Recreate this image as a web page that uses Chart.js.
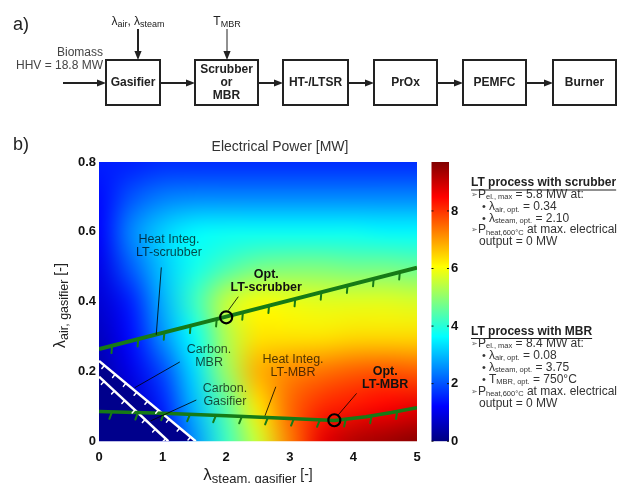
<!DOCTYPE html>
<html>
<head>
<meta charset="utf-8">
<script src="https://cdn.jsdelivr.net/npm/chart.js@4.4.0/dist/chart.umd.min.js"></script>
<style>
  html, body { margin: 0; padding: 0; background: #fff; }
</style>
</head>
<body>
<canvas id="powerChart" width="631" height="483"></canvas>
<script>
// grid of the electrical power map
var steamValues = [0, 0.5, 1, 1.5, 2, 2.5, 3, 3.5, 4, 4.5, 5];
var airValues = [0, 0.1, 0.2, 0.3, 0.4, 0.5, 0.6, 0.7, 0.8];
// powerMW[j][i] -> airValues[j], steamValues[i]
var powerMW = [
  [0.2, 0.4, 1.0, 2.6, 4.2, 5.6, 7.3, 8.7, 9.2, 9.4, 9.6],
  [0.3, 0.6, 1.5, 3.0, 4.5, 6.3, 7.5, 8.1, 8.3, 8.5, 8.7],
  [0.4, 1.0, 1.9, 3.3, 5.1, 6.8, 7.2, 7.4, 7.6, 7.7, 7.6],
  [0.6, 1.3, 2.6, 3.7, 5.3, 6.3, 6.3, 6.3, 6.4, 6.4, 6.4],
  [0.8, 1.5, 2.9, 4.2, 5.5, 6.0, 5.9, 5.8, 5.8, 5.8, 5.7],
  [1.0, 2.1, 3.1, 3.8, 4.3, 4.7, 4.8, 4.8, 4.7, 4.7, 4.6],
  [1.2, 2.5, 3.2, 3.6, 3.7, 3.7, 3.7, 3.7, 3.7, 3.6, 3.6],
  [1.3, 2.0, 2.4, 2.5, 2.5, 2.5, 2.5, 2.5, 2.5, 2.5, 2.5],
  [1.5, 1.5, 1.6, 1.6, 1.6, 1.6, 1.6, 1.6, 1.6, 1.6, 1.6]
];
var powerMax = 9.7;
var colorbarTicks = [0, 2, 4, 6, 8];
var steamTicks = [0, 1, 2, 3, 4, 5];
var airTicks = [0, 0.2, 0.4, 0.6, 0.8];

// constraint lines
var scrubberSteam = [0, 2, 5];
var scrubberAir = [0.264, 0.357, 0.497];
var mbrSteam = [0, 1, 2, 3, 3.7, 4.2, 4.6, 5];
var mbrAir = [0.085, 0.080, 0.073, 0.065, 0.059, 0.070, 0.082, 0.096];
var carbonMbrSteam = [0, 1.52];
var carbonMbrAir = [0.23, 0];
var carbonGasSteam = [0, 1.09];
var carbonGasAir = [0.185, 0];
// optima
var optSteam = [2.0, 3.7];
var optAir = [0.355, 0.06];

var FONT = "'Liberation Sans', Arial, sans-serif";
var GREEN = '#167a16';

function pts(xs, ys) {
  return xs.map(function (x, i) { return { x: x, y: ys[i] }; });
}

function jet(t) {
  t = Math.max(0, Math.min(1, t));
  function c(v) { return Math.round(255 * Math.max(0, Math.min(1, v))); }
  return [c(1.5 - Math.abs(4 * t - 3)), c(1.5 - Math.abs(4 * t - 2)), c(1.5 - Math.abs(4 * t - 1))];
}

// text made of parts {t, size, dy}
function drawParts(ctx, parts, x, y, align, color, bold) {
  var w = 0;
  parts.forEach(function (p) {
    ctx.font = (bold ? 'bold ' : '') + p.size + 'px ' + FONT;
    p.w = ctx.measureText(p.t).width;
    w += p.w;
  });
  var cx = align === 'center' ? x - w / 2 : (align === 'right' ? x - w : x);
  var start = cx;
  ctx.fillStyle = color;
  ctx.textAlign = 'left';
  ctx.textBaseline = 'middle';
  parts.forEach(function (p) {
    ctx.font = (bold ? 'bold ' : '') + p.size + 'px ' + FONT;
    ctx.fillText(p.t, cx, y + (p.dy || 0));
    cx += p.w;
  });
  return { x: start, w: w };
}

// "P_{el., max} = 5.8" -> parts
function parse(str, size, sub) {
  var parts = [], re = /_\{([^}]*)\}/g, last = 0, m;
  while ((m = re.exec(str))) {
    if (m.index > last) parts.push({ t: str.slice(last, m.index), size: size });
    parts.push({ t: m[1], size: sub, dy: size * 0.22 });
    last = re.lastIndex;
  }
  if (last < str.length) parts.push({ t: str.slice(last), size: size });
  return parts;
}

function arrow(ctx, x1, y1, x2, y2, lw, head) {
  var a = Math.atan2(y2 - y1, x2 - x1);
  var bx = x2 - Math.cos(a) * head, by = y2 - Math.sin(a) * head;
  var hw = head * 0.4;
  ctx.lineWidth = lw;
  ctx.beginPath(); ctx.moveTo(x1, y1); ctx.lineTo(bx, by); ctx.stroke();
  ctx.beginPath();
  ctx.moveTo(x2, y2);
  ctx.lineTo(bx + Math.sin(a) * hw, by - Math.cos(a) * hw);
  ctx.lineTo(bx - Math.sin(a) * hw, by + Math.cos(a) * hw);
  ctx.closePath(); ctx.fill();
}

// heat map painted through the x/y scales
var heatmapPlugin = {
  id: 'heatmap',
  beforeDatasetsDraw: function (chart) {
    var ctx = chart.ctx, xs = chart.scales.x, ys = chart.scales.y, area = chart.chartArea;
    var nx = steamValues.length, ny = airValues.length;
    var off = document.createElement('canvas');
    off.width = nx; off.height = ny;
    var octx = off.getContext('2d');
    var img = octx.createImageData(nx, ny);
    for (var j = 0; j < ny; j++) {
      for (var i = 0; i < nx; i++) {
        var rgb = jet(powerMW[j][i] / powerMax);
        var k = ((ny - 1 - j) * nx + i) * 4;
        img.data[k] = rgb[0]; img.data[k + 1] = rgb[1]; img.data[k + 2] = rgb[2]; img.data[k + 3] = 255;
      }
    }
    octx.putImageData(img, 0, 0);
    var hx = (steamValues[1] - steamValues[0]) / 2, hy = (airValues[1] - airValues[0]) / 2;
    var x0 = xs.getPixelForValue(steamValues[0] - hx), x1 = xs.getPixelForValue(steamValues[nx - 1] + hx);
    var y0 = ys.getPixelForValue(airValues[ny - 1] + hy), y1 = ys.getPixelForValue(airValues[0] - hy);
    ctx.save();
    ctx.beginPath(); ctx.rect(area.left, area.top, area.right - area.left, area.bottom - area.top); ctx.clip();
    ctx.imageSmoothingEnabled = true;
    ctx.imageSmoothingQuality = 'high';
    ctx.drawImage(off, x0, y0, x1 - x0, y1 - y0);
    ctx.restore();
  }
};

// hatch marks along constraint lines, annotations
var notes = [
  { lines: ['Heat Integ.', 'LT-scrubber'], at: [1.10, 0.558], from: [0.98, 0.498], to: [0.90, 0.305] },
  { lines: ['Opt.', 'LT-scrubber'], at: [2.63, 0.459], from: [2.19, 0.414], to: [2.03, 0.374], bold: true },
  { lines: ['Carbon.', 'MBR'], at: [1.73, 0.244], from: [1.27, 0.227], to: [0.56, 0.153] },
  { lines: ['Carbon.', 'Gasifier'], at: [1.98, 0.133], from: [1.53, 0.118], to: [0.81, 0.058] },
  { lines: ['Heat Integ.', 'LT-MBR'], at: [3.05, 0.214], from: [2.78, 0.156], to: [2.61, 0.073] },
  { lines: ['Opt.', 'LT-MBR'], at: [4.50, 0.180], from: [4.05, 0.137], to: [3.75, 0.073], bold: true }
];

var overlayPlugin = {
  id: 'overlay',
  afterDatasetsDraw: function (chart) {
    var ctx = chart.ctx, xs = chart.scales.x, ys = chart.scales.y, area = chart.chartArea;
    ctx.save();
    ctx.beginPath(); ctx.rect(area.left, area.top, area.right - area.left, area.bottom - area.top); ctx.clip();
    chart.data.datasets.forEach(function (ds, di) {
      if (!ds.hatch) return;
      var h = ds.hatch;
      var p = chart.getDatasetMeta(di).data.map(function (e) { return { x: e.x, y: e.y }; });
      ctx.strokeStyle = h.color; ctx.lineWidth = h.width; ctx.lineCap = 'round';
      var carry = h.spacing / 2;
      for (var s = 0; s < p.length - 1; s++) {
        var dx = p[s + 1].x - p[s].x, dy = p[s + 1].y - p[s].y, L = Math.hypot(dx, dy);
        var ux = dx / L, uy = dy / L, nx = -uy, ny = ux;
        if (ny < 0) { nx = -nx; ny = -ny; }
        var d = carry;
        while (d <= L) {
          var px = p[s].x + ux * d, py = p[s].y + uy * d;
          ctx.beginPath();
          ctx.moveTo(px, py);
          ctx.lineTo(px + nx * h.len - ux * h.len * h.lean, py + ny * h.len - uy * h.len * h.lean);
          ctx.stroke();
          d += h.spacing;
        }
        carry = d - L;
      }
    });
    ctx.restore();

    ctx.save();
    notes.forEach(function (n) {
      ctx.strokeStyle = 'rgba(0,0,0,0.8)'; ctx.lineWidth = 1;
      ctx.beginPath();
      ctx.moveTo(xs.getPixelForValue(n.from[0]), ys.getPixelForValue(n.from[1]));
      ctx.lineTo(xs.getPixelForValue(n.to[0]), ys.getPixelForValue(n.to[1]));
      ctx.stroke();
      var cx = xs.getPixelForValue(n.at[0]), cy = ys.getPixelForValue(n.at[1]);
      var lh = 13, top = cy - lh * (n.lines.length - 1) / 2;
      n.lines.forEach(function (t, i) {
        drawParts(ctx, [{ t: t, size: 12.5 }], cx, top + i * lh, 'center',
          n.bold ? '#111' : 'rgba(0,0,0,0.7)', n.bold);
      });
    });
    ctx.restore();
  }
};

// process chain a), colour bar, titles, side notes
var boxes = [
  { x: 106, w: 54, lines: ['Gasifier'] },
  { x: 195, w: 63, lines: ['Scrubber', 'or', 'MBR'] },
  { x: 283, w: 65, lines: ['HT-/LTSR'] },
  { x: 374, w: 63, lines: ['PrOx'] },
  { x: 463, w: 63, lines: ['PEMFC'] },
  { x: 553, w: 63, lines: ['Burner'] }
];

var sideNotes = [
  { y: 183, x: 471, text: 'LT process with scrubber', title: true },
  { y: 194.5, x: 478, text: 'P_{el., max} = 5.8 MW at:', mark: '➢' },
  { y: 207, x: 489, text: 'λ_{air, opt.} = 0.34', mark: '•' },
  { y: 218.5, x: 489, text: 'λ_{steam, opt.} = 2.10', mark: '•' },
  { y: 230, x: 478, text: 'P_{heat,600°C} at max. electrical', mark: '➢' },
  { y: 242, x: 479, text: 'output = 0 MW' },
  { y: 331.5, x: 471, text: 'LT process with MBR', title: true },
  { y: 343.5, x: 478, text: 'P_{el., max} = 8.4 MW at:', mark: '➢' },
  { y: 355.5, x: 489, text: 'λ_{air, opt.} = 0.08', mark: '•' },
  { y: 367.5, x: 489, text: 'λ_{steam, opt.} = 3.75', mark: '•' },
  { y: 379.5, x: 489, text: 'T_{MBR, opt.} = 750°C', mark: '•' },
  { y: 391.5, x: 478, text: 'P_{heat,600°C} at max. electrical', mark: '➢' },
  { y: 403.5, x: 479, text: 'output = 0 MW' }
];

var framePlugin = {
  id: 'frame',
  afterDraw: function (chart) {
    var ctx = chart.ctx, cb = chart.scales.cb, area = chart.chartArea;
    ctx.save();

    // colour bar
    var cbL = 431.5, cbR = 449;
    var top = cb.getPixelForValue(powerMax), bot = cb.getPixelForValue(0);
    var g = ctx.createLinearGradient(0, bot, 0, top);
    [0, 0.125, 0.375, 0.625, 0.875, 1].forEach(function (t) {
      var c = jet(t);
      g.addColorStop(t, 'rgb(' + c.join(',') + ')');
    });
    ctx.fillStyle = g;
    ctx.fillRect(cbL, top, cbR - cbL, bot - top);
    ctx.fillStyle = '#111';
    colorbarTicks.forEach(function (v) {
      var y = cb.getPixelForValue(v);
      ctx.fillRect(cbL, y - 0.5, 2, 1);
      ctx.fillRect(cbR - 2, y - 0.5, 2, 1);
    });

    // panel labels and titles
    drawParts(ctx, [{ t: 'a)', size: 18 }], 13, 25, 'left', '#222');
    drawParts(ctx, [{ t: 'b)', size: 18 }], 13, 145, 'left', '#222');
    drawParts(ctx, [{ t: 'Electrical Power [MW]', size: 14 }], 280, 147, 'center', '#333');

    // axis titles
    drawParts(ctx, [{ t: 'λ', size: 17 }, { t: 'steam, gasifier', size: 13, dy: 4 }, { t: ' [-]', size: 14 }],
      (area.left + area.right) / 2, 475, 'center', '#222');
    ctx.translate(61, (area.top + area.bottom) / 2 + 4);
    ctx.rotate(-Math.PI / 2);
    drawParts(ctx, [{ t: 'λ', size: 16 }, { t: 'air, gasifier', size: 12.5, dy: 4 }, { t: ' [-]', size: 14 }],
      0, 0, 'center', '#222');
    ctx.setTransform(1, 0, 0, 1, 0, 0);

    // process chain
    ctx.strokeStyle = '#222'; ctx.fillStyle = '#222';
    var by = 60, bh = 45, mid = by + bh / 2 + 0.5;
    boxes.forEach(function (b, i) {
      ctx.lineWidth = 2;
      ctx.strokeRect(b.x, by, b.w, bh);
      var lh = 13, t0 = mid - lh * (b.lines.length - 1) / 2;
      b.lines.forEach(function (t, k) {
        drawParts(ctx, [{ t: t, size: 12 }], b.x + b.w / 2, t0 + k * lh, 'center', '#222', true);
      });
      ctx.strokeStyle = '#222'; ctx.fillStyle = '#222';
      if (i < boxes.length - 1) arrow(ctx, b.x + b.w, mid, boxes[i + 1].x, mid, 2, 9);
    });
    arrow(ctx, 63, mid, boxes[0].x, mid, 2, 9);
    arrow(ctx, 138, 29, 138, by, 2, 9);
    arrow(ctx, 227, 29, 227, by, 1, 9);
    drawParts(ctx, [{ t: 'Biomass', size: 12 }], 103, 53, 'right', '#444');
    drawParts(ctx, [{ t: 'HHV = 18.8 MW', size: 12 }], 103, 66, 'right', '#444');
    drawParts(ctx, parse('λ_{air}, λ_{steam}', 12, 9), 138, 22, 'center', '#222');
    drawParts(ctx, parse('T_{MBR}', 12, 9), 227, 22, 'center', '#222');

    // side notes
    sideNotes.forEach(function (n) {
      if (n.title) {
        var r = drawParts(ctx, [{ t: n.text, size: 12 }], n.x, n.y, 'left', '#222', true);
        ctx.fillStyle = '#222';
        ctx.fillRect(r.x, n.y + 6.5, r.w, 1);
        return;
      }
      if (n.mark === '➢') drawParts(ctx, [{ t: n.mark, size: 8 }], 471, n.y, 'left', '#666');
      if (n.mark === '•') drawParts(ctx, [{ t: n.mark, size: 11 }], 482, n.y, 'left', '#333');
      drawParts(ctx, parse(n.text, 12, 7.5), n.x, n.y, 'left', '#333');
    });
    ctx.restore();
  }
};

var ctx_power = document.getElementById('powerChart');
var powerChart = new Chart(ctx_power, {
  type: 'scatter',
  data: {
    datasets: [
      {
        label: 'Optimum',
        data: pts(optSteam, optAir),
        showLine: false,
        pointRadius: 6,
        pointBorderWidth: 2.2,
        pointBorderColor: '#000',
        pointBackgroundColor: 'rgba(0,0,0,0)'
      },
      {
        label: 'Heat Integ. LT-scrubber',
        data: pts(scrubberSteam, scrubberAir),
        showLine: true,
        borderColor: GREEN,
        borderWidth: 4,
        pointRadius: 0,
        clip: 0,
        hatch: { spacing: 27, len: 7, lean: 0.35, width: 2, color: GREEN }
      },
      {
        label: 'Heat Integ. LT-MBR',
        data: pts(mbrSteam, mbrAir),
        showLine: true,
        borderColor: GREEN,
        borderWidth: 3.5,
        pointRadius: 0,
        clip: 0,
        hatch: { spacing: 26, len: 7, lean: 0.35, width: 2, color: GREEN }
      },
      {
        label: 'Carbon. Gasifier',
        data: pts(carbonGasSteam, carbonGasAir),
        showLine: true,
        borderColor: '#fff',
        borderWidth: 2.5,
        pointRadius: 0,
        clip: 0,
        hatch: { spacing: 14, len: 4, lean: 0, width: 1.5, color: '#fff' }
      },
      {
        label: 'Carbon. MBR',
        data: pts(carbonMbrSteam, carbonMbrAir),
        showLine: true,
        borderColor: '#fff',
        borderWidth: 2.5,
        pointRadius: 0,
        clip: 0,
        fill: 'start',
        backgroundColor: '#00008c',
        hatch: { spacing: 14, len: 4, lean: 0, width: 1.5, color: '#fff' }
      }
    ]
  },
  options: {
    responsive: false,
    devicePixelRatio: 1,
    animation: false,
    layout: { padding: { left: 0, right: 0, top: 162, bottom: 0 } },
    plugins: {
      legend: { display: false },
      tooltip: { enabled: false },
      title: { display: false }
    },
    scales: {
      x: {
        type: 'linear',
        min: 0,
        max: 5,
        afterBuildTicks: function (s) { s.ticks = steamTicks.map(function (v) { return { value: v }; }); },
        afterFit: function (s) { s.height = 40; },
        grid: { display: false, drawTicks: false },
        border: { display: false },
        ticks: { padding: 8, color: '#111', font: { family: FONT, size: 13, weight: 'bold' } }
      },
      y: {
        type: 'linear',
        position: 'left',
        min: 0,
        max: 0.8,
        afterBuildTicks: function (s) { s.ticks = airTicks.map(function (v) { return { value: v }; }); },
        afterFit: function (s) { s.width = 99; },
        grid: { display: false, drawTicks: false },
        border: { display: false },
        ticks: { padding: 3, color: '#111', font: { family: FONT, size: 13, weight: 'bold' } }
      },
      cb: {
        type: 'linear',
        position: 'right',
        min: 0,
        max: powerMax,
        afterBuildTicks: function (s) { s.ticks = colorbarTicks.map(function (v) { return { value: v }; }); },
        afterFit: function (s) { s.width = 214; },
        grid: { display: false, drawTicks: false },
        border: { display: false },
        ticks: { padding: 34, color: '#111', font: { family: FONT, size: 13, weight: 'bold' } }
      }
    }
  },
  plugins: [heatmapPlugin, overlayPlugin, framePlugin]
});
</script>
</body>
</html>
